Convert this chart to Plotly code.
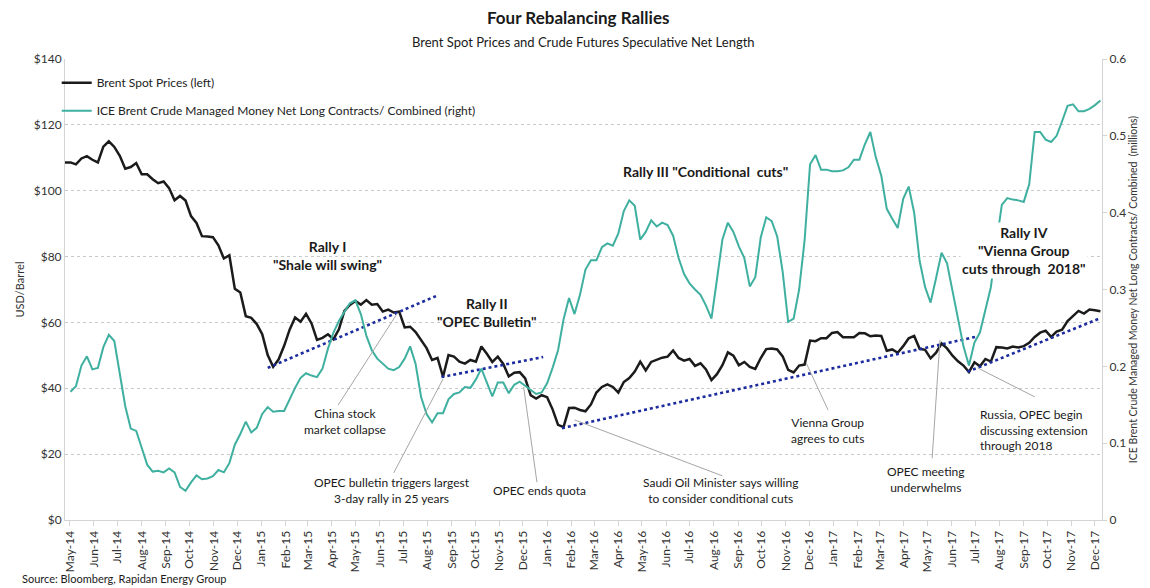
import pandas as pd
import plotly.graph_objects as go

# ---------------- data ----------------
brent_2014 = [108.6,108.6,108.0,109.8,110.5,109.4,108.6,113.4,115.0,113.3,110.6,106.7,107.2,108.4,105.0,105.0,
              103.5,102.3,102.8,100.8,97.1,98.4,97.0,92.3,90.2,86.2,86.1,85.9,83.4,79.4,80.4,70.2,69.1,61.9,61.4,59.5]
brent_2015 = [56.4,50.1,46.5,48.8,52.9, 57.8,61.5,60.2,62.6, 59.7,54.7,55.3,56.4, 54.9,57.9,63.5,65.3,
              66.5,65.4,66.8,65.4,65.6, 63.3,63.9,63.0,63.3, 58.5,58.7,57.1,54.6,52.2, 48.6,49.2,43.5,50.1,
              49.6,48.1,47.5,48.6, 48.1,52.7,50.5,48.0,49.6, 47.4,43.6,44.7,44.9, 43.0,37.9,36.9,37.9]
brent_2016 = [37.3,33.6,28.9,28.2,34.0, 34.1,33.4,33.0,35.1, 38.7,40.4,41.2,40.4, 38.7,41.9,43.1,45.1,48.1,
              45.4,48.0,48.7,49.3, 49.6,51.5,49.2,48.4, 48.9,46.8,47.6,45.7,42.5, 44.3,47.0,50.9,49.9,
              47.0,48.0,46.5,45.9,49.2, 51.9,52.1,51.8,49.7, 45.6,44.8,46.9,47.2, 54.5,54.3,55.2,55.2,56.8]
brent_2017 = [57.1,55.5,55.5,55.5, 56.8,56.7,55.8,56.0, 55.9,51.4,51.8,50.8,52.8, 55.2,55.9,52.0,51.7,
              49.1,50.8,53.6,52.1, 49.9,48.2,46.9,44.9,47.9, 46.7,48.9,48.1,52.5, 52.4,52.1,52.7,52.4,
              52.8,53.8,55.6,56.9,57.5, 55.6,57.2,57.8,60.4, 62.1,63.5,62.7,63.9, 63.7,63.4]
brent_values = brent_2014 + brent_2015 + brent_2016 + brent_2017
brent_dates = pd.date_range("2014-04-25", periods=len(brent_values), freq="W-FRI")

netlong_2014 = [0.167,0.174,0.201,0.213,0.196,0.198,0.225,0.241,0.233,0.190,
                0.148,0.119,0.116,0.094,0.072,0.063,0.064,0.062,0.067,0.062,
                0.043,0.038,0.049,0.058,0.053,0.054,0.057,0.065,0.062,0.074,
                0.098,0.112,0.128,0.114,0.120]
netlong_2015 = [0.138,0.147,0.141,0.142,0.142,0.158,0.172,0.185,0.191,0.188,
                0.186,0.197,0.223,0.244,0.259,0.271,0.282,0.286,0.268,0.240,
                0.221,0.210,0.203,0.197,0.195,0.199,0.210,0.226,0.203,0.160,
                0.138,0.127,0.139,0.139,0.157,0.164,0.166,0.173,0.172,0.183,
                0.197,0.178,0.161,0.179,0.179,0.165,0.176,0.180,0.175,0.169,
                0.164,0.166]
netlong_2016 = [0.178,0.198,0.221,0.261,0.289,0.268,0.293,0.326,0.338,0.338,
                0.355,0.360,0.357,0.373,0.402,0.416,0.409,0.365,0.375,0.390,
                0.382,0.387,0.384,0.370,0.341,0.320,0.308,0.300,0.293,0.279,
                0.262,0.313,0.365,0.387,0.375,0.356,0.341,0.304,0.316,0.368,
                0.394,0.389,0.369,0.323,0.258,0.262,0.300,0.364,0.463,0.475,
                0.456,0.456,0.454]
netlong_2017 = [0.454,0.455,0.459,0.469,0.469,0.489,0.505,0.472,0.448,0.405,
                0.392,0.380,0.418,0.434,0.400,0.337,0.303,0.283,0.315,0.348,
                0.334,0.298,0.267,0.226,0.201,0.231,0.244,0.274,0.303,0.360,
                0.410,0.419,0.417,0.416,0.414,0.437,0.505,0.505,0.495,0.492,
                0.500,0.519,0.539,0.541,0.532,0.532,0.535,0.540,0.546]
netlong_values = netlong_2014 + netlong_2015 + netlong_2016 + netlong_2017
netlong_dates = pd.date_range("2014-05-02", periods=len(netlong_values), freq="W-FRI")

# rally trend lines (start/end date, price)
rally_names = ["Rally I", "Rally II", "Rally III", "Rally IV"]
rally_dates = [("2015-01-09", "2015-08-12"), ("2015-08-19", "2015-12-27"),
               ("2016-01-20", "2017-07-01"), ("2017-06-21", "2017-12-08")]
rally_prices = [(46.2, 68.0), (43.4, 49.5), (27.9, 55.6), (45.0, 61.3)]

# event pointers: (label end date, label end price) -> (event date, event price)
event_from = [("2015-04-09", 34.9), ("2015-06-19", 14.3), ("2015-12-19", 11.5), ("2016-08-12", 13.4),
              ("2016-12-25", 33.4), ("2017-05-07", 18.8), ("2017-09-15", 37.4)]
event_to = [("2015-06-24", 62.9), ("2015-08-21", 42.8), ("2015-12-02", 40.4), ("2016-02-05", 30.4),
            ("2016-11-27", 47.7), ("2017-05-17", 54.7), ("2017-07-04", 46.2)]

FONT = "Lato, 'Open Sans', sans-serif"
BLACK = "#1b1b1b"
TEAL = "#3fb0a0"
NAVY = "#1c2b9e"
GRID = "#c9c9c9"

fig = go.Figure()
fig.add_trace(go.Scatter(x=brent_dates, y=brent_values, mode="lines", name="Brent Spot Prices (left)",
                         line=dict(color=BLACK, width=2.5), legendgroup="a"))
fig.add_trace(go.Scatter(x=netlong_dates, y=netlong_values, mode="lines", yaxis="y2",
                         name="ICE Brent Crude Managed Money Net Long Contracts/ Combined (right)",
                         line=dict(color=TEAL, width=2), legendgroup="b"))
for name, d, p in zip(rally_names, rally_dates, rally_prices):
    fig.add_trace(go.Scatter(x=list(d), y=list(p), mode="lines", showlegend=False, name=name,
                             line=dict(color=NAVY, width=2.6, dash="dot")))

shapes = []
for (d0, p0), (d1, p1) in zip(event_from, event_to):
    shapes.append(dict(type="line", xref="x", yref="y", x0=d0, y0=p0, x1=d1, y1=p1,
                       line=dict(color="#a6a6a6", width=1)))

ann = []
def txt(text, x, y, size=12, bold=False, xanchor="center", align="center", bg=None):
    d = dict(text=f"<b>{text}</b>" if bold else text, x=x, y=y, xref="paper", yref="paper",
             showarrow=False, xanchor=xanchor, yanchor="middle", align=align,
             font=dict(family=FONT, size=size, color="#1a1a1a"))
    if bg:
        d["bgcolor"] = bg
    ann.append(d)

txt("Four Rebalancing Rallies", 0.495, 1.089, size=17, bold=True)
txt("Brent Spot Prices and Crude Futures Speculative Net Length", 0.5, 1.037, size=13)
txt("Rally I<br>\"Shale will swing\"", 0.253, 0.574, size=14, bold=True)
txt("Rally II<br>\"OPEC Bulletin\"", 0.407, 0.451, size=14, bold=True)
txt("Rally III \"Conditional  cuts\"", 0.618, 0.755, size=14, bold=True)
txt("Rally IV<br>\"Vienna Group<br>cuts through  2018\"", 0.925, 0.584, size=14, bold=True, bg="white")
txt("China stock<br>market collapse", 0.270, 0.213, size=12)
txt("OPEC bulletin triggers largest<br>3-day rally in 25 years", 0.315, 0.065, size=12)
txt("OPEC ends quota", 0.458, 0.063, size=12)
txt("Saudi Oil Minister says willing<br>to consider conditional cuts", 0.632, 0.065, size=12)
txt("Vienna Group<br>agrees to cuts", 0.735, 0.195, size=12)
txt("OPEC meeting<br>underwhelms", 0.830, 0.087, size=12)
txt("Russia, OPEC begin<br>discussing extension<br>through 2018", 0.880, 0.195, size=12,
    xanchor="left", align="left")
txt("Source: Bloomberg, Rapidan Energy Group", -0.043, -0.126, size=11, xanchor="left", align="left")

# page body has an 8px margin: figure is sized/offset so the plot area lands where the reference has it
fig.update_layout(
    width=1142, height=580,
    margin=dict(l=49, r=47, t=51, b=68),
    paper_bgcolor="white", plot_bgcolor="white",
    font=dict(family=FONT, size=12, color="#333333"),
    showlegend=True,
    legend=dict(x=-0.008, y=0.98, xanchor="left", yanchor="top", bgcolor="rgba(0,0,0,0)",
                font=dict(family=FONT, size=12, color="#222222"), tracegroupgap=9),
    xaxis=dict(type="date", range=["2014-04-25", "2017-12-10"], tickformat="%b-%y", dtick="M1",
               tick0="2014-05-01", tickangle=-90, showgrid=False, showline=True, linecolor="#d4d4d4",
               ticks="outside", ticklen=5, tickcolor="#d4d4d4", tickfont=dict(size=12, color="#333333")),
    yaxis=dict(range=[0, 140], dtick=20, tickprefix="$", showgrid=True, gridcolor=GRID, griddash="dot",
               showline=True, linecolor="#d4d4d4", zeroline=False, ticks="",
               title=dict(text="USD/Barrel", font=dict(size=11), standoff=6),
               tickfont=dict(size=12, color="#333333")),
    yaxis2=dict(range=[0, 0.6], dtick=0.1, overlaying="y", side="right", showgrid=False,
                showline=True, linecolor="#d4d4d4", zeroline=False, ticks="outside", ticklen=4,
                tickcolor="#d4d4d4",
                title=dict(text="ICE Brent Crude Managed Money Net Long Contracts/ Combined  (millions)",
                           font=dict(size=10.5), standoff=4),
                tickfont=dict(size=12, color="#333333")),
    shapes=shapes,
    annotations=ann,
)

fig.write_html("out.html")
